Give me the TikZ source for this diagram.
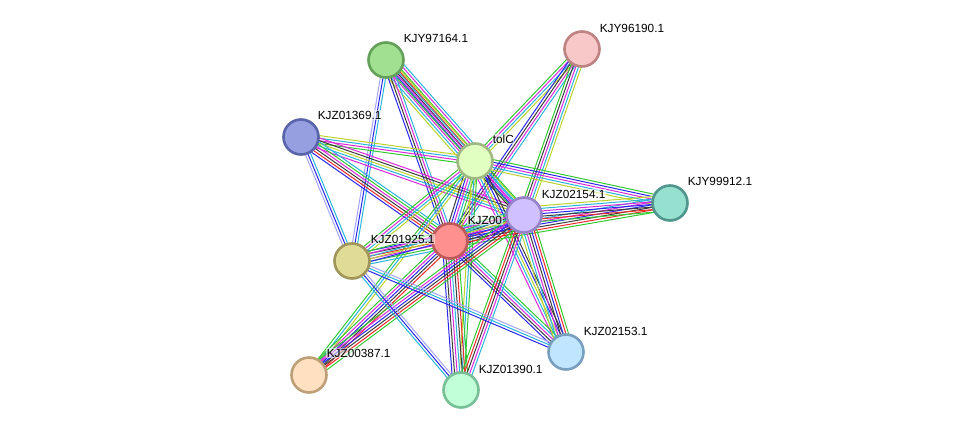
\documentclass[tikz,border=0pt]{standalone}
\usepackage{fontspec}
\setmainfont{Liberation Sans}
\usetikzlibrary{calc}
\pgfdeclarelayer{bg}
\pgfsetlayers{bg,main}
\definecolor{sg}{RGB}{50,200,50}
\definecolor{sr}{RGB}{240,40,40}
\definecolor{sb}{RGB}{40,40,240}
\definecolor{sk}{RGB}{60,60,60}
\definecolor{sm}{RGB}{220,40,220}
\definecolor{sc}{RGB}{40,180,220}
\definecolor{sy}{RGB}{190,210,40}
\definecolor{sp}{RGB}{165,165,250}
\definecolor{fC}{RGB}{150,160,224}\definecolor{dC}{RGB}{90,100,170}
\definecolor{fA}{RGB}{160,224,144}\definecolor{dA}{RGB}{100,160,90}
\definecolor{fB}{RGB}{248,200,200}\definecolor{dB}{RGB}{190,130,130}
\definecolor{fT}{RGB}{224,255,192}\definecolor{dT}{RGB}{160,185,130}
\definecolor{fD}{RGB}{150,224,208}\definecolor{dD}{RGB}{80,150,140}
\definecolor{fR}{RGB}{255,144,144}\definecolor{dR}{RGB}{190,90,90}
\definecolor{fF}{RGB}{224,220,152}\definecolor{dF}{RGB}{160,150,90}
\definecolor{fE}{RGB}{208,192,255}\definecolor{dE}{RGB}{150,130,200}
\definecolor{fG}{RGB}{192,230,255}\definecolor{dG}{RGB}{120,160,190}
\definecolor{fH}{RGB}{255,224,192}\definecolor{dH}{RGB}{190,160,120}
\definecolor{fI}{RGB}{192,255,216}\definecolor{dI}{RGB}{120,190,150}
\newcommand\bund[3]{%
  \foreach \cc [count=\ii] in {#3} {\xdef\nn{\ii}}%
  \foreach \cc [count=\ii] in {#3} {%
    \pgfmathsetmacro\off{(\ii-(\nn+1)/2)*2.6}%
    \draw[color=\cc, line width=1.0pt] ($(#1)!\off pt!90:(#2)$) -- ($(#2)!\off pt!-90:(#1)$);
  }%
}
\tikzset{
  prot/.style={circle, minimum size=35pt, inner sep=0pt, line width=2.6pt, fill=f#1, draw=d#1},
  lbl/.style={anchor=west, font=\fontsize{11.8}{12}\selectfont, text=black, fill=white, fill opacity=0.55, text opacity=1, inner sep=0.6pt}
}
\begin{document}
\begin{tikzpicture}[x=1pt,y=-1pt]
\path[use as bounding box] (0,0) rectangle (975,436);
% nodes
\node[prot=C] (C) at (301,137) {};
\node[lbl] (lC) at (317,115) {KJZ01369.1};
\node[prot=A] (A) at (386,60) {};
\node[lbl] (lA) at (403,38) {KJY97164.1};
\node[prot=B] (B) at (582,49) {};
\node[lbl] (lB) at (599,28) {KJY96190.1};
\node[prot=T] (T) at (475,161) {};
\node[lbl] (lT) at (492,139) {tolC};
\node[prot=D] (D) at (670,203) {};
\node[lbl] (lD) at (687,181) {KJY99912.1};
\node[prot=R] (R) at (450,241) {};
\node[lbl] (lR) at (467,220) {KJZ00};
\node[prot=F] (F) at (352,261) {};
\node[lbl] (lF) at (370,239) {KJZ01925.1};
\node[prot=E] (E) at (524,215) {};
\node[lbl] (lE) at (541,194) {KJZ02154.1};
\node[prot=G] (G) at (566,352) {};
\node[lbl] (lG) at (583,331) {KJZ02153.1};
\node[prot=H] (H) at (309,375) {};
\node[lbl] (lH) at (326,353) {KJZ00387.1};
\node[prot=I] (I) at (461,390) {};
\node[lbl] (lI) at (478,369) {KJZ01390.1};
% edges
\begin{pgfonlayer}{bg}
\fill[white] (0,0) rectangle (975,436);
\bund{A}{T}{sy,sc,sm,sb,sk,sr,sg,sm,sc}
\bund{A}{E}{sg,sm,sc,sy}
\bund{A}{R}{sb,sk,sm,sc}
\bund{A}{F}{sp,sb,sc}
\bund{B}{T}{sg,sm,sc,sy}
\bund{B}{R}{sb,sk,sm,sc}
\bund{B}{E}{sg,sk,sm,sc,sy}
\bund{C}{T}{sg,sm,sc,sy}
\bund{C}{E}{sm,sc,sy,sk,sm}
\bund{C}{R}{sb,sr,sk,sm,sg,sc}
\bund{C}{F}{sp,sb,sc}
\bund{T}{D}{sy,sc,sm,sb,sg}
\bund{T}{E}{sk,sb,sm,sc,sg}
\bund{T}{R}{sk,sb,sm,sc,sg,sy}
\bund{T}{F}{sg,sm,sc,sy}
\bund{T}{H}{sg,sc,sy}
\bund{T}{I}{sy,sc,sg}
\bund{T}{G}{sm,sc,sy,sb,sk}
\bund{R}{E}{sk,sb,sr,sm,sk,sg,sc}
\bund{R}{F}{sb,sk,sr,sm,sg,sc}
\bund{R}{H}{sg,sm,sb,sk,sr}
\bund{R}{I}{sb,sk,sm,sc,sk,sr,sg}
\bund{R}{G}{sb,sk,sm,sc,sg}
\bund{R}{D}{sg,sr,sk,sb,sm,sc}
\bund{E}{D}{sg,sr,sk,sb,sm,sc,sy}
\bund{E}{F}{sg,sm,sc,sy,sb}
\bund{E}{H}{sg,sm,sb,sk,sr,sg}
\bund{E}{I}{sg,sr,sk,sm,sc}
\bund{E}{G}{sy,sc,sm,sk,sb,sr,sg}
\bund{F}{G}{sb,sc,sp}
\bund{F}{I}{sc,sb,sp}
\end{pgfonlayer}
\end{tikzpicture}
\end{document}
